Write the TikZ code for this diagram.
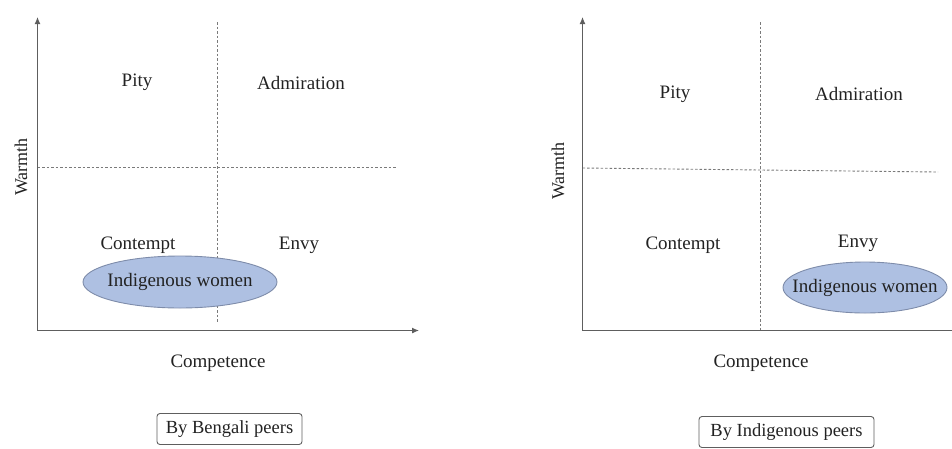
\documentclass[tikz,border=0pt]{standalone}
\usepackage{fontspec}
\setmainfont{Liberation Serif}
\usetikzlibrary{arrows.meta,shapes.geometric}
\definecolor{axisgray}{HTML}{5E5E5E}
\definecolor{dashgray}{HTML}{7A7A7A}
\definecolor{txt}{HTML}{222222}
\definecolor{ellfill}{HTML}{AEC0E2}
\definecolor{elldraw}{HTML}{7E8CAA}
\tikzset{
  lbl/.style={text=txt,font=\fontsize{19}{22}\selectfont,inner sep=0pt},
  axisline/.style={draw=axisgray,line width=1.1pt,-{Latex[length=7pt,width=6pt]}},
  divider/.style={draw=dashgray,line width=0.9pt,dash pattern=on 2.5pt off 2pt},
  group/.style={ellipse,fill=ellfill,draw=elldraw,line width=0.9pt,inner sep=0pt},
  caption/.style={draw=axisgray,line width=0.9pt,rounded corners=3pt,text=txt,font=\fontsize{18.5}{22}\selectfont,inner sep=0pt,minimum height=31pt}
}
\begin{document}
\begin{tikzpicture}[x=1pt,y=-1pt]
\useasboundingbox (0,0) rectangle (952,448);
% ---------- left panel ----------
\coordinate (Lo) at (37.5,330.5);
\coordinate (Lytop) at (37.5,17);
\coordinate (Lxend) at (419,330.5);
\coordinate (Lvt) at (217.5,22);
\coordinate (Lvb) at (217.5,323);
\coordinate (Lhl) at (37.5,167);
\coordinate (Lhr) at (397,167);
\draw[divider] (Lvt) -- (Lvb);
\draw[divider] (Lhl) -- (Lhr);
\draw[axisline] (Lo) -- (Lytop);
\draw[axisline] (Lo) -- (Lxend);
\node[lbl] (Lpity) at (137,82) {Pity};
\node[lbl] (Ladm) at (301,83) {Admiration};
\node[lbl] (Lcon) at (138,245) {Contempt};
\node[lbl] (Lenvy) at (299,245) {Envy};
\node[lbl,rotate=90,font=\fontsize{18}{22}\selectfont] (Lwarm) at (21,167) {Warmth};
\node[lbl] (Lcomp) at (218,363) {Competence};
\node[group,minimum width=194pt,minimum height=52pt] (Lgrp) at (180,282) {};
\node[lbl] (Lgrptxt) at (Lgrp.center) {Indigenous women};
\node[caption,minimum width=145pt] (Lcap) at (229.5,429) {By Bengali peers};
% ---------- right panel ----------
\coordinate (Ro) at (582.5,330.5);
\coordinate (Rytop) at (582.5,17);
\coordinate (Rxend) at (964,330.5);
\coordinate (Rvt) at (760,22);
\coordinate (Rvb) at (760,330);
\coordinate (Rhl) at (582.5,168);
\coordinate (Rhr) at (938,172);
\draw[divider] (Rvt) -- (Rvb);
\draw[divider] (Rhl) -- (Rhr);
\draw[axisline] (Ro) -- (Rytop);
\draw[axisline] (Ro) -- (Rxend);
\node[lbl] (Rpity) at (675,94) {Pity};
\node[lbl] (Radm) at (859,94) {Admiration};
\node[lbl] (Rcon) at (683,245) {Contempt};
\node[lbl] (Renvy) at (858,243) {Envy};
\node[lbl,rotate=90,font=\fontsize{18}{22}\selectfont] (Rwarm) at (558,171) {Warmth};
\node[lbl] (Rcomp) at (761,363) {Competence};
\node[group,minimum width=164pt,minimum height=51pt] (Rgrp) at (865,287.5) {};
\node[lbl] (Rgrptxt) at (Rgrp.center) {Indigenous women};
\node[caption,minimum width=175pt] (Rcap) at (786.5,432) {By Indigenous peers};
\end{tikzpicture}
\end{document}
